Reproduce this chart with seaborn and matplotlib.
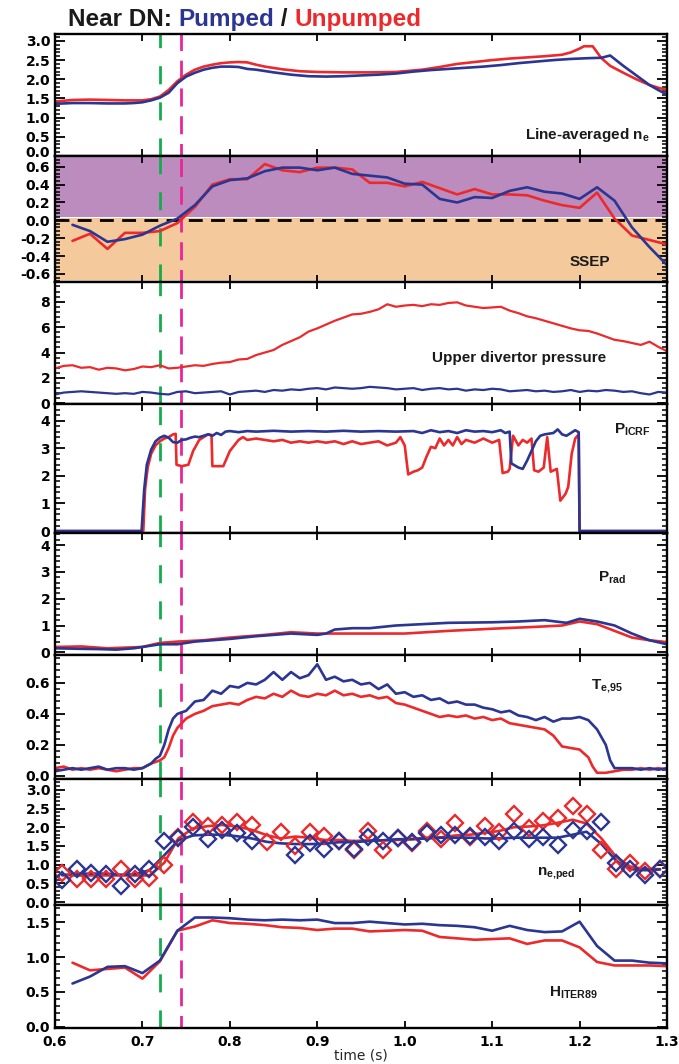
import numpy as np
import pandas as pd
import matplotlib
matplotlib.use("Agg")
import matplotlib.pyplot as plt
import matplotlib.transforms as mtrans
import seaborn as sns
from matplotlib.ticker import MultipleLocator, AutoMinorLocator, FormatStrFormatter

# ---------------- data ----------------
# Panel 1: line-averaged density
ne_t_red = [0.60,0.62,0.64,0.66,0.68,0.70,0.71,0.72,0.73,0.74,0.75,0.76,0.77,0.78,0.79,0.80,0.81,0.82,0.83,0.84,0.86,0.88,0.90,0.93,0.96,0.99,1.00,1.02,1.04,1.06,1.08,1.10,1.12,1.14,1.16,1.18,1.19,1.20,1.205,1.215,1.225,1.235,1.25,1.265,1.28,1.29,1.30]
ne_red   = [1.42,1.46,1.47,1.46,1.45,1.45,1.48,1.55,1.72,1.95,2.12,2.25,2.33,2.38,2.42,2.44,2.45,2.44,2.38,2.33,2.26,2.21,2.19,2.18,2.18,2.19,2.21,2.25,2.32,2.40,2.45,2.50,2.54,2.57,2.60,2.64,2.70,2.80,2.86,2.86,2.55,2.35,2.17,2.00,1.85,1.78,1.72]
ne_t_blue = [0.60,0.62,0.64,0.66,0.68,0.69,0.70,0.71,0.72,0.73,0.74,0.75,0.76,0.77,0.78,0.79,0.80,0.81,0.82,0.83,0.85,0.87,0.89,0.91,0.93,0.95,0.97,0.99,1.01,1.03,1.05,1.07,1.09,1.11,1.13,1.15,1.17,1.19,1.21,1.225,1.235,1.25,1.265,1.28,1.29,1.30]
ne_blue   = [1.36,1.38,1.38,1.37,1.37,1.38,1.40,1.45,1.52,1.65,1.90,2.07,2.17,2.25,2.30,2.33,2.33,2.32,2.27,2.25,2.18,2.12,2.08,2.07,2.08,2.10,2.12,2.15,2.20,2.24,2.27,2.30,2.33,2.37,2.42,2.46,2.50,2.53,2.55,2.56,2.62,2.35,2.10,1.85,1.72,1.60]

# Panel 2: SSEP
ssep_t = [0.62,0.64,0.66,0.68,0.70,0.72,0.74,0.76,0.78,0.80,0.82,0.84,0.86,0.88,0.90,0.92,0.94,0.96,0.98,1.00,1.02,1.04,1.06,1.08,1.10,1.12,1.14,1.16,1.18,1.20,1.22,1.24,1.26,1.28,1.30]
ssep_blue = [-0.05,-0.12,-0.24,-0.21,-0.16,-0.06,0.02,0.17,0.38,0.45,0.47,0.55,0.59,0.59,0.56,0.59,0.52,0.50,0.48,0.41,0.40,0.24,0.20,0.26,0.25,0.33,0.37,0.32,0.30,0.24,0.37,0.22,-0.08,-0.30,-0.50]
ssep_red  = [-0.23,-0.15,-0.32,-0.14,-0.14,-0.12,-0.03,0.15,0.40,0.46,0.46,0.63,0.56,0.54,0.59,0.59,0.57,0.42,0.42,0.38,0.43,0.36,0.29,0.35,0.29,0.29,0.28,0.22,0.17,0.14,0.31,0.02,-0.17,-0.22,-0.27]

# Panel 3: upper divertor pressure (0.60 .. 1.30 every 0.01 s)
pres_t = [round(0.60 + 0.01 * i, 2) for i in range(71)]
pres_red = [2.75,2.95,3.00,2.80,2.85,2.65,2.80,2.75,2.60,2.70,2.90,2.85,3.00,2.75,2.80,2.90,3.00,2.95,3.10,3.20,
            3.25,3.45,3.50,3.80,4.00,4.20,4.60,4.90,5.20,5.65,5.90,6.20,6.50,6.75,7.00,7.05,7.20,7.40,7.80,7.60,
            7.70,7.75,7.65,7.80,7.75,7.90,7.95,7.70,7.60,7.50,7.55,7.60,7.30,7.10,6.85,6.70,6.50,6.30,6.10,5.90,
            5.75,5.70,5.50,5.25,5.00,4.90,4.75,4.60,4.85,4.45,4.10]
pres_blue = [0.70,0.85,0.90,0.95,0.90,0.85,0.80,0.75,0.80,0.75,0.90,0.85,0.75,0.70,0.90,0.95,0.80,0.85,0.90,0.95,
             0.70,0.90,0.95,1.00,0.90,1.05,1.00,1.10,1.05,1.15,1.20,1.10,1.25,1.20,1.15,1.20,1.30,1.25,1.20,1.10,
             1.15,1.20,1.05,1.15,1.20,1.10,1.15,1.00,1.10,1.05,1.15,1.10,0.95,1.00,1.05,0.95,1.00,0.90,0.95,1.05,
             0.90,1.00,0.95,1.05,1.00,0.90,0.95,0.80,0.70,0.90,0.85]

# Panel 4: P_ICRF
icrf_t_blue = [0.60,0.699,0.702,0.705,0.71,0.715,0.72,0.725,0.73,0.735,0.74,0.745,0.75,0.755,0.76,0.765,0.77,0.775,0.78,0.785,0.79,0.795,0.80,0.81,0.82,0.83,0.85,0.87,0.89,0.91,0.93,0.95,0.97,0.99,1.01,1.02,1.03,1.04,1.05,1.06,1.07,1.08,1.09,1.10,1.11,1.115,1.12,1.122,1.13,1.135,1.14,1.145,1.15,1.155,1.16,1.17,1.175,1.18,1.185,1.19,1.195,1.199,1.200,1.30]
icrf_blue   = [0.0,0.0,1.5,2.4,2.95,3.25,3.38,3.45,3.38,3.22,3.20,3.30,3.32,3.38,3.42,3.40,3.45,3.50,3.45,3.55,3.48,3.60,3.62,3.58,3.62,3.60,3.63,3.60,3.62,3.60,3.63,3.60,3.62,3.60,3.62,3.55,3.65,3.58,3.62,3.55,3.65,3.60,3.62,3.58,3.65,3.55,3.60,2.45,2.30,2.25,2.55,2.90,3.25,3.45,3.50,3.55,3.68,3.50,3.45,3.55,3.65,3.58,0.0,0.0]
icrf_t_red = [0.60,0.701,0.703,0.706,0.71,0.715,0.72,0.725,0.73,0.735,0.738,0.739,0.745,0.7525,0.758,0.765,0.775,0.779,0.780,0.7925,0.80,0.81,0.815,0.82,0.83,0.84,0.85,0.86,0.87,0.88,0.89,0.90,0.91,0.92,0.93,0.94,0.95,0.96,0.97,0.98,0.99,0.995,1.0,1.004,1.01,1.015,1.02,1.025,1.03,1.035,1.04,1.045,1.05,1.055,1.06,1.065,1.07,1.08,1.09,1.10,1.108,1.112,1.118,1.12,1.124,1.13,1.135,1.14,1.145,1.148,1.153,1.159,1.163,1.167,1.174,1.178,1.184,1.187,1.191,1.195,1.199,1.200,1.30]
icrf_red   = [0.0,0.0,1.5,2.3,2.8,3.1,3.25,3.35,3.40,3.50,3.52,2.40,2.35,2.40,2.90,3.30,3.50,3.48,2.35,2.35,2.90,3.30,3.40,3.30,3.35,3.30,3.25,3.30,3.20,3.25,3.20,3.25,3.20,3.25,3.15,3.25,3.15,3.20,3.25,3.10,3.20,3.40,3.10,2.05,2.15,2.20,2.30,2.70,3.05,3.00,3.35,3.10,3.30,3.10,3.40,3.15,3.30,3.20,3.35,3.20,3.30,2.10,2.15,2.25,3.45,3.10,3.30,3.20,3.35,2.20,2.15,2.30,3.40,2.15,2.25,1.10,1.35,1.60,2.80,3.35,3.50,0.0,0.0]

# Panel 5: P_rad
prad_t_blue = [0.60,0.63,0.65,0.67,0.69,0.70,0.72,0.74,0.76,0.80,0.83,0.87,0.90,0.91,0.92,0.94,0.96,0.99,1.02,1.05,1.10,1.13,1.16,1.185,1.20,1.22,1.24,1.26,1.28,1.30]
prad_blue   = [0.15,0.13,0.12,0.10,0.15,0.20,0.30,0.30,0.40,0.50,0.60,0.70,0.65,0.70,0.85,0.90,0.90,1.00,1.05,1.10,1.12,1.15,1.20,1.10,1.25,1.15,1.00,0.70,0.45,0.30]
prad_t_red = [0.60,0.63,0.66,0.70,0.72,0.74,0.77,0.80,0.84,0.87,0.90,0.95,1.00,1.05,1.10,1.15,1.18,1.20,1.22,1.24,1.26,1.28,1.30]
prad_red   = [0.20,0.22,0.15,0.20,0.35,0.40,0.45,0.55,0.65,0.75,0.70,0.70,0.70,0.80,0.88,0.95,1.00,1.15,1.05,0.80,0.55,0.45,0.38]

# Panel 6: T_e,95
te_t_blue = [0.60,0.61,0.62,0.63,0.64,0.65,0.66,0.67,0.68,0.69,0.70,0.71,0.715,0.72,0.725,0.73,0.735,0.74,0.75,0.76,0.77,0.78,0.79,0.80,0.81,0.82,0.83,0.84,0.85,0.86,0.87,0.88,0.89,0.90,0.91,0.92,0.93,0.94,0.95,0.96,0.97,0.98,0.99,1.00,1.01,1.02,1.03,1.04,1.05,1.06,1.07,1.08,1.09,1.10,1.11,1.12,1.13,1.14,1.15,1.16,1.17,1.18,1.19,1.20,1.21,1.22,1.23,1.235,1.24,1.25,1.26,1.27,1.28,1.29,1.30]
te_blue   = [0.03,0.04,0.05,0.04,0.05,0.06,0.04,0.05,0.05,0.04,0.05,0.08,0.11,0.13,0.20,0.30,0.37,0.40,0.42,0.48,0.49,0.55,0.53,0.58,0.57,0.60,0.59,0.62,0.67,0.62,0.67,0.63,0.65,0.72,0.62,0.64,0.61,0.62,0.59,0.60,0.56,0.59,0.53,0.54,0.51,0.52,0.49,0.50,0.47,0.48,0.46,0.46,0.44,0.43,0.41,0.42,0.39,0.38,0.36,0.38,0.35,0.37,0.37,0.38,0.36,0.30,0.20,0.10,0.05,0.05,0.05,0.04,0.05,0.04,0.05]
te_t_red = [0.60,0.61,0.62,0.63,0.64,0.65,0.66,0.67,0.68,0.69,0.70,0.71,0.72,0.725,0.73,0.735,0.74,0.745,0.75,0.76,0.77,0.78,0.79,0.80,0.81,0.82,0.83,0.84,0.85,0.86,0.87,0.88,0.89,0.90,0.91,0.92,0.93,0.94,0.95,0.96,0.97,0.98,0.99,1.00,1.01,1.02,1.03,1.04,1.05,1.06,1.07,1.08,1.09,1.10,1.11,1.12,1.13,1.14,1.15,1.16,1.17,1.18,1.19,1.20,1.21,1.215,1.22,1.23,1.24,1.25,1.26,1.27,1.28,1.29,1.30]
te_red   = [0.05,0.06,0.04,0.05,0.04,0.05,0.04,0.03,0.04,0.05,0.05,0.08,0.10,0.12,0.18,0.26,0.31,0.34,0.37,0.40,0.42,0.45,0.46,0.47,0.46,0.49,0.51,0.50,0.53,0.51,0.55,0.52,0.51,0.53,0.52,0.55,0.52,0.53,0.51,0.52,0.50,0.51,0.47,0.46,0.44,0.42,0.40,0.38,0.39,0.38,0.39,0.37,0.38,0.36,0.37,0.34,0.33,0.32,0.31,0.30,0.26,0.19,0.18,0.17,0.12,0.06,0.02,0.02,0.03,0.04,0.04,0.05,0.04,0.05,0.04]

# Panel 7: n_e,ped (diamonds every ~16.7 ms, plus smoothed traces)
ped_t = [0.608,0.625,0.641,0.658,0.675,0.691,0.708,0.725,0.741,0.758,0.775,0.791,0.808,0.825,0.842,0.858,0.875,0.892,0.908,0.925,0.942,0.958,0.975,0.992,1.008,1.025,1.042,1.058,1.075,1.092,1.108,1.125,1.142,1.158,1.175,1.192,1.208,1.225,1.242,1.258,1.275,1.292]
ped_blue = [0.58,0.87,0.78,0.74,0.44,0.74,0.87,1.64,1.70,2.00,1.68,1.93,1.84,1.63,np.nan,np.nan,1.25,1.59,1.43,1.64,1.41,1.75,1.63,1.70,1.61,1.84,1.79,1.79,1.77,1.75,1.63,1.90,1.68,1.75,1.52,1.93,1.90,2.14,1.03,0.89,0.71,0.87]
ped_red  = [0.78,0.62,0.62,0.62,0.87,0.62,0.64,1.00,1.75,2.13,2.04,2.06,2.13,2.06,1.61,1.88,1.50,1.88,1.77,1.64,1.39,1.90,1.39,1.72,1.59,1.90,1.68,2.11,1.75,2.02,1.88,2.35,1.99,2.17,2.26,2.56,2.35,1.39,0.87,1.05,0.82,0.87]
ped_fit_blue = [0.72,0.75,0.76,0.76,0.73,0.74,0.85,1.25,1.65,1.78,1.80,1.80,1.76,1.70,1.61,1.57,1.55,1.55,1.56,1.60,1.60,1.63,1.65,1.68,1.68,1.70,1.72,1.72,1.72,1.70,1.70,1.72,1.72,1.72,1.72,1.80,1.88,1.55,1.10,0.88,0.85,0.87]
ped_fit_red  = [0.72,0.71,0.71,0.71,0.71,0.71,0.71,1.05,1.70,1.97,2.03,2.06,2.02,1.93,1.79,1.70,1.75,1.72,1.66,1.66,1.63,1.65,1.65,1.66,1.68,1.72,1.73,1.78,1.80,1.85,1.90,2.00,2.02,2.05,2.12,2.20,2.10,1.70,1.20,0.95,0.88,0.88]

# Panel 8: H_ITER89
h_t = [0.62,0.64,0.66,0.68,0.70,0.72,0.74,0.76,0.78,0.80,0.82,0.84,0.86,0.88,0.90,0.92,0.94,0.96,0.98,1.00,1.02,1.04,1.06,1.08,1.10,1.12,1.14,1.16,1.18,1.20,1.22,1.24,1.26,1.28,1.30]
h_blue = [0.62,0.72,0.86,0.87,0.77,0.95,1.38,1.57,1.57,1.56,1.54,1.53,1.54,1.53,1.54,1.49,1.49,1.51,1.49,1.47,1.48,1.46,1.45,1.43,1.38,1.45,1.39,1.36,1.37,1.51,1.16,0.95,0.95,0.92,0.91]
h_red  = [0.92,0.81,0.83,0.85,0.69,0.94,1.38,1.44,1.53,1.49,1.48,1.46,1.43,1.42,1.39,1.41,1.41,1.37,1.38,1.39,1.38,1.29,1.27,1.25,1.26,1.27,1.19,1.24,1.24,1.14,0.93,0.88,0.88,0.88,0.87]

t_green = 0.720
t_magenta = 0.744

panel_labels = ["Line-averaged n$_{e}$", "SSEP", "Upper divertor pressure", "P$_{ICRF}$",
                "P$_{rad}$", "T$_{e{,}95}$", "n$_{e{,}ped}$", "H$_{ITER89}$"]
title_parts = ["Near DN: ", "Pumped", " / ", "Unpumped"]

# ---------------- style ----------------
sns.set_theme(style="ticks")
plt.rcParams['font.family'] = ['DejaVu Sans']
plt.rcParams['mathtext.fontset'] = 'custom'
plt.rcParams['mathtext.rm'] = 'Liberation Sans:bold'
plt.rcParams['mathtext.it'] = 'Liberation Sans:bold'
plt.rcParams['mathtext.bf'] = 'Liberation Sans:bold'
plt.rcParams['axes.unicode_minus'] = True

BLUE = "#2b3592"
RED = "#ec2a2c"
GREEN = "#12ad4c"
MAGENTA = "#e8269a"
PURPLE = "#bc8cbe"
ORANGE = "#f4c99b"
LW = 1.9

W, H = 679, 1064
fig = plt.figure(figsize=(W / 100, H / 100), dpi=100)

bounds = [(34, 156), (156, 282), (282, 404), (404, 533), (533, 655), (655, 779), (779, 905), (905, 1028)]
L, R = 55, 667
axes = []
for (top, bot) in bounds:
    ax = fig.add_axes([L / W, 1 - bot / H, (R - L) / W, (bot - top) / H])
    axes.append(ax)

def line(ax, x, y, c, lw=LW, **kw):
    sns.lineplot(x=x, y=y, ax=ax, color=c, lw=lw, estimator=None, sort=False, **kw)

# panel 1
ax = axes[0]
line(ax, ne_t_red, ne_red, RED)
line(ax, ne_t_blue, ne_blue, BLUE)
ax.set_ylim(0, 3.18)
ax.yaxis.set_major_locator(MultipleLocator(0.5))
ax.yaxis.set_major_formatter(FormatStrFormatter('%.1f'))

# panel 2
ax = axes[1]
ax.axhspan(0.035, 0.705, color=PURPLE, lw=0, zorder=0)
ax.axhspan(-0.667, 0.025, color=ORANGE, lw=0, zorder=0)
ax.axhline(0, color='black', lw=2.0, ls=(0, (5, 3)), zorder=1.6)
line(ax, ssep_t, ssep_red, RED)
line(ax, ssep_t, ssep_blue, BLUE)
ax.set_ylim(-0.69, 0.72)
ax.yaxis.set_major_locator(MultipleLocator(0.2))
ax.yaxis.set_major_formatter(FormatStrFormatter('%.1f'))

# panel 3
ax = axes[2]
line(ax, pres_t, pres_red, RED, lw=1.6)
line(ax, pres_t, pres_blue, BLUE, lw=1.6)
ax.set_ylim(-0.05, 9.55)
ax.yaxis.set_major_locator(MultipleLocator(2))
ax.yaxis.set_major_formatter(FormatStrFormatter('%d'))

# panel 4
ax = axes[3]
line(ax, icrf_t_red, icrf_red, RED)
line(ax, icrf_t_blue, icrf_blue, BLUE)
ax.set_ylim(-0.07, 4.6)
ax.yaxis.set_major_locator(MultipleLocator(1))
ax.yaxis.set_major_formatter(FormatStrFormatter('%d'))

# panel 5
ax = axes[4]
line(ax, prad_t_red, prad_red, RED)
line(ax, prad_t_blue, prad_blue, BLUE)
ax.set_ylim(-0.1, 4.45)
ax.yaxis.set_major_locator(MultipleLocator(1))
ax.yaxis.set_major_formatter(FormatStrFormatter('%d'))

# panel 6
ax = axes[5]
line(ax, te_t_red, te_red, RED)
line(ax, te_t_blue, te_blue, BLUE)
ax.set_ylim(-0.02, 0.78)
ax.yaxis.set_major_locator(MultipleLocator(0.2))
ax.yaxis.set_major_formatter(FormatStrFormatter('%.1f'))

# panel 7
ax = axes[6]
line(ax, ped_t, ped_fit_red, RED)
line(ax, ped_t, ped_fit_blue, BLUE)
sns.lineplot(x=ped_t, y=ped_red, ax=ax, estimator=None, sort=False, marker='D', linestyle='',
             markersize=8, markerfacecolor='none', markeredgecolor=RED, markeredgewidth=1.7, color=RED)
sns.lineplot(x=ped_t, y=ped_blue, ax=ax, estimator=None, sort=False, marker='D', linestyle='',
             markersize=8, markerfacecolor='none', markeredgecolor=BLUE, markeredgewidth=1.7, color=BLUE)
ax.set_ylim(-0.08, 3.29)
ax.yaxis.set_major_locator(MultipleLocator(0.5))
ax.yaxis.set_major_formatter(FormatStrFormatter('%.1f'))

# panel 8
ax = axes[7]
line(ax, h_t, h_red, RED)
line(ax, h_t, h_blue, BLUE)
ax.set_ylim(-0.02, 1.75)
ax.yaxis.set_major_locator(MultipleLocator(0.5))
ax.yaxis.set_major_formatter(FormatStrFormatter('%.1f'))

for i, ax in enumerate(axes):
    ax.set_xlim(0.6, 1.3)
    ax.axvline(t_green, color=GREEN, lw=2.0, ls=(0, (6.5, 6.5)), zorder=1.5)
    ax.axvline(t_magenta, color=MAGENTA, lw=2.0, ls=(2, (6.5, 3.5)), zorder=1.5)
    ax.xaxis.set_major_locator(MultipleLocator(0.1))
    ax.yaxis.set_minor_locator(AutoMinorLocator(5))
    ax.tick_params(axis='both', which='both', direction='in', top=True, right=True,
                   labelsize=10, width=1.3, colors='black')
    ax.tick_params(axis='x', which='major', length=5, pad=5)
    ax.tick_params(axis='y', which='major', length=7)
    ax.tick_params(axis='y', which='minor', length=3.5, width=1.1)
    for s in ax.spines.values():
        s.set_linewidth(1.7)
        s.set_color('black')
    ax.set_xlabel('')
    ax.set_ylabel('')
    if i < 7:
        ax.tick_params(axis='x', labelbottom=False)
    else:
        ax.xaxis.set_major_formatter(FormatStrFormatter('%.1f'))
        ax.set_xlabel('time (s)', fontsize=10, labelpad=0)

# make tick labels bold, and nudge the top panel's bottom "0.0" upward
fig.canvas.draw()
for ax in axes:
    for lab in ax.get_yticklabels() + ax.get_xticklabels():
        lab.set_fontweight('bold')
for tk in axes[0].yaxis.get_major_ticks():
    if abs(tk.get_loc()) < 1e-9:
        tk.label1.set_transform(tk.label1.get_transform() +
                                mtrans.ScaledTranslation(0, 3 / 72, fig.dpi_scale_trans))

# panel labels (figure pixel positions)
lab_pos = [(650, 135, 'right'), (590, 262, 'center'), (519, 358, 'center'), (632, 430, 'center'),
           (612, 578, 'center'), (607, 686, 'center'), (556, 874, 'center'), (573, 993, 'center')]
for txt, (px, py, ha) in zip(panel_labels, lab_pos):
    fig.text(px / W, 1 - py / H, txt, ha=ha, va='center', fontsize=11, fontweight='bold',
             family='Liberation Sans', color='#1a1a1a')

# title
renderer = fig.canvas.get_renderer()
x = 68 / W
for txt, c in zip(title_parts, ['#1a1a1a', BLUE, '#1a1a1a', RED]):
    t = fig.text(x, 1 - 26 / H, txt, color=c, fontsize=17.5, fontweight='bold',
                 family='Liberation Sans', va='baseline', ha='left')
    bb = t.get_window_extent(renderer)
    x = bb.x1 / fig.bbox.width

fig.savefig("out.png", dpi=100)
